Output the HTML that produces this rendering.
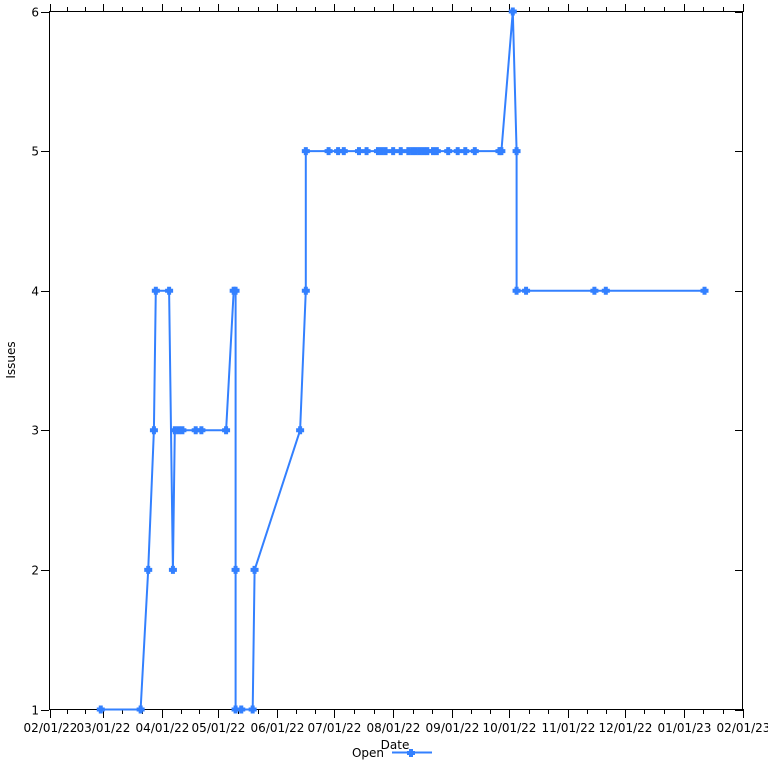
<!DOCTYPE html>
<html><head><meta charset="utf-8"><style>
body{margin:0;background:#fff;}
svg{display:block;font-family:"DejaVu Sans","Liberation Sans",sans-serif;}
</style></head><body>
<svg id="chart" width="768" height="768" viewBox="0 0 768 768" xmlns="http://www.w3.org/2000/svg">
<rect x="49.5" y="11.5" width="693" height="698" fill="none" stroke="#000" stroke-width="1"/>
<g id="axes"></g>
<g id="series"></g>
<text x="395" y="749" font-size="12" text-anchor="middle">Date</text>
<text x="15" y="360" font-size="12" text-anchor="middle" transform="rotate(-90 15 360)">Issues</text>
<g>
<text x="384" y="757" font-size="12" text-anchor="end">Open</text>
<line x1="392" y1="752.5" x2="432" y2="752.5" stroke="#3380ff" stroke-width="2"/>
<path d="M409,749h4v2h2v4h-2v2h-4v-2h-2v-4h2z" fill="#3380ff"/>
</g>
</svg>
<script>
const dates=["2022-02-28","2022-03-21","2022-03-25","2022-03-28","2022-03-29","2022-04-05","2022-04-07","2022-04-08","2022-04-10","2022-04-12","2022-04-19","2022-04-22","2022-05-05","2022-05-09","2022-05-10","2022-05-10","2022-05-10","2022-05-13","2022-05-19","2022-05-20","2022-06-13","2022-06-16","2022-06-16","2022-06-28","2022-07-03","2022-07-06","2022-07-14","2022-07-18","2022-07-24","2022-07-26","2022-07-28","2022-08-01","2022-08-05","2022-08-09","2022-08-11","2022-08-13","2022-08-15","2022-08-17","2022-08-19","2022-08-22","2022-08-24","2022-08-30","2022-09-04","2022-09-08","2022-09-13","2022-09-26","2022-09-27","2022-10-03","2022-10-05","2022-10-05","2022-10-10","2022-11-15","2022-11-21","2023-01-12"];
const openValues=[1,1,2,3,4,4,2,3,3,3,3,3,3,4,4,2,1,1,1,2,3,4,5,5,5,5,5,5,5,5,5,5,5,5,5,5,5,5,5,5,5,5,5,5,5,5,5,6,5,4,4,4,4,4];
const xTickDates=["2022-02-01","2022-03-01","2022-04-01","2022-05-01","2022-06-01","2022-07-01","2022-08-01","2022-09-01","2022-10-01","2022-11-01","2022-12-01","2023-01-01","2023-02-01"];
const xTickLabels=["02/01/22","03/01/22","04/01/22","05/01/22","06/01/22","07/01/22","08/01/22","09/01/22","10/01/22","11/01/22","12/01/22","01/01/23","02/01/23"];
const yTicks=[1,2,3,4,5,6];

const NS="http://www.w3.org/2000/svg";
const X0=49.5,X1=742.5,Y0=709.5,Y1=11.5;
const tMin=Date.parse("2022-02-01"),tMax=Date.parse("2023-02-01");
function xs(d){return X0+(Date.parse(d)-tMin)/(tMax-tMin)*(X1-X0);}
function xt(t){return X0+(t-tMin)/(tMax-tMin)*(X1-X0);}
function ys(v){return Y0-(v-1)/5*(Y0-Y1);}
function mk(tag,attrs,parent){const e=document.createElementNS(NS,tag);for(const k in attrs)e.setAttribute(k,attrs[k]);parent.appendChild(e);return e;}
const axes=document.getElementById('axes');
xTickDates.forEach((d,i)=>{
  const x=Math.round(xs(d))+0.5;
  const t=mk('line',{x1:x,y1:709,x2:x,y2:718,stroke:'#000'},axes);
  
  
  const tt=mk('line',{x1:x,y1:4,x2:x,y2:12,stroke:'#000'},axes);
  
  
  const lb=mk('text',{x:x,y:732,'font-size':12,'text-anchor':'middle'},axes);
  lb.textContent=xTickLabels[i];
  
  
  if(i<xTickDates.length-1){
    const a=Date.parse(d),b=Date.parse(xTickDates[i+1]);
    for(let k=1;k<3;k++){
      const mx=Math.round(xt(a+(b-a)*k/3))+0.5;
      const m=mk('line',{x1:mx,y1:709,x2:mx,y2:714,stroke:'#000'},axes);
      
      
      const m2=mk('line',{x1:mx,y1:7,x2:mx,y2:12,stroke:'#000'},axes);
      
      
    }
  }
});
yTicks.forEach(v=>{
  const y=Math.round(ys(v))+0.5;
  const t=mk('line',{x1:41,y1:y,x2:49,y2:y,stroke:'#000'},axes);
  
  
  const t2=mk('line',{x1:735,y1:y,x2:743,y2:y,stroke:'#000'},axes);
  
  
  const lb=mk('text',{x:39,y:y+4,'font-size':12,'text-anchor':'end'},axes);
  lb.textContent=v;
  
  
});
const series=document.getElementById('series');
const pts=dates.map((d,i)=>[xs(d),ys(openValues[i])]);
const pl=mk('polyline',{points:pts.map(p=>p[0].toFixed(1)+','+p[1].toFixed(1)).join(' '),fill:'none',stroke:'#3380ff','stroke-width':2},series);


pts.forEach(p=>{
  const x=p[0],y=p[1];
  const m=mk('path',{d:`M${x-2},${y-4}h4v2h2v4h-2v2h-4v-2h-2v-4h2z`,fill:'#3380ff'},series);
  
  
});
</script>
</body></html>
